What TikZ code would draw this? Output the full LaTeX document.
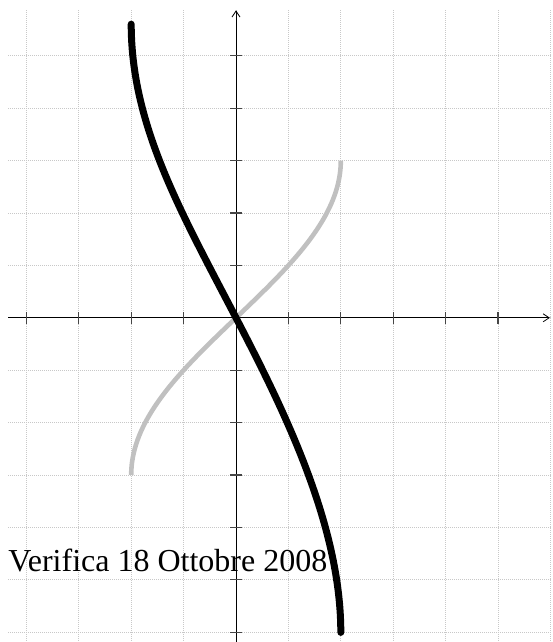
\documentclass[tikz,border=0pt]{standalone}
\usepackage{fontspec}
\setmainfont{Liberation Serif}
\usetikzlibrary{arrows.meta}
\definecolor{gridgray}{RGB}{200,200,200}
\definecolor{curvegray}{RGB}{192,192,192}
\definecolor{tickgray}{RGB}{70,70,70}
\begin{document}
\begin{tikzpicture}[x=52.4pt,y=52.4pt,
  gridline/.style={gridgray,line width=0.8pt,dash pattern=on 1pt off 1pt},
  axisline/.style={black,line width=0.8pt,-{Straight Barb[length=6pt,width=8pt,line width=0.8pt]}},
  tickmark/.style={tickgray,line width=1.2pt},
  graycurve/.style={curvegray,line width=4.6pt},
  blackcurve/.style={black,line width=7pt,line cap=round}]
\useasboundingbox (-4.504,-6.187) rectangle (6.031,6.065);
% grid
\foreach \y in {-6,...,5} \draw[gridline] (-4.35,\y) -- (6.031,\y);
\foreach \x in {-4,...,6} \draw[gridline] (\x,5.874) -- (\x,-6.187);
% label
\node[anchor=base west,inner sep=0pt,font=\fontsize{32}{37}\selectfont] (lbl) at (-4.35,-4.838) {Verifica 18 Ottobre 2008};
% axes
\coordinate (xs) at (-4.35,0);
\coordinate (xe) at (5.99,0);
\coordinate (ys) at (0,-6.187);
\coordinate (ye) at (0,5.868);
\draw[axisline] (xs) -- (xe);
\draw[axisline] (ys) -- (ye);
\foreach \x in {-4,-3,-2,-1,1,2,3,4,5} \draw[tickmark] (\x,-0.115) -- (\x,0.115);
\foreach \y in {-6,-5,-4,-3,-2,-1,1,2,3,4,5} \draw[tickmark] (-0.115,\y) -- (0.115,\y);
% curves
\draw[graycurve] plot[variable=\t,domain=-90:90,samples=181,smooth] ({2*sin(\t)},{3*\t/90});
\draw[blackcurve] plot[variable=\t,domain=-90:90,samples=181,smooth] ({2*sin(\t)},{-(0.4*sin(\t)+0.06004*\t)-0.2*sin(\t)*sin(\t)});
\end{tikzpicture}
\end{document}
